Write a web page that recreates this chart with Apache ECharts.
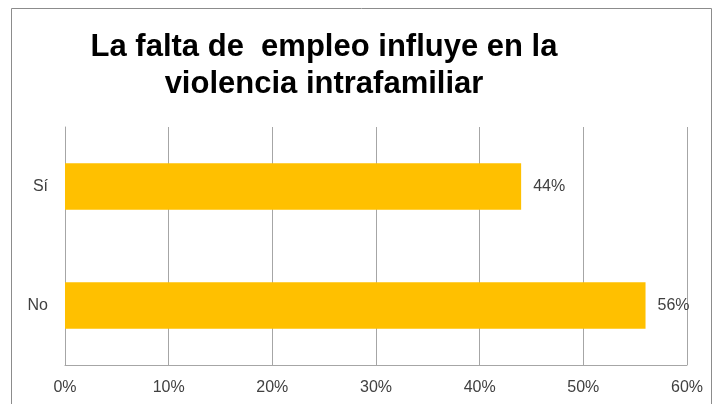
<!DOCTYPE html>
<html><head><meta charset="utf-8">
<script src="https://cdn.jsdelivr.net/npm/echarts@6/dist/echarts.min.js"></script>
<style>html,body{margin:0;padding:0;background:#fff}#c{width:714px;height:404px}</style>
</head><body><div id="c"></div>
<script>
const categories = ['No', 'Sí'];
const values = [0.56, 0.44];
const tickMax = 0.6;
const titleText = 'La falta de  empleo influye en la\nviolencia intrafamiliar';

const chart = echarts.init(document.getElementById('c'), null, {renderer: 'canvas'});
chart.setOption({
  animation: false,
  backgroundColor: '#fff',
  title: {
    text: titleText,
    left: 319, top: 24, textAlign: 'center',
    textStyle: {fontFamily: 'Liberation Sans', fontWeight: 'bold', fontSize: 31, color: '#000', lineHeight: 37}
  },
  graphic: [{type: 'rect', shape: {x: 11.5, y: 8.5, width: 700, height: 420}, style: {fill: 'none', stroke: '#8c8c8c', lineWidth: 1}, z: -1}],
  grid: {left: 65, right: 27, top: 127, bottom: 39},
  xAxis: {
    type: 'value', min: 0, max: tickMax, interval: 0.1,
    axisLine: {show: true, lineStyle: {color: '#a6a6a6'}},
    axisTick: {show: false},
    splitLine: {show: true, lineStyle: {color: '#a6a6a6'}},
    axisLabel: {formatter: v => Math.round(v * 100) + '%', color: '#404040', fontFamily: 'Liberation Sans', fontSize: 16, margin: 15}
  },
  yAxis: {
    type: 'category', data: categories,
    axisLine: {show: true, lineStyle: {color: '#a6a6a6'}},
    axisTick: {show: false},
    axisLabel: {color: '#404040', fontFamily: 'Liberation Sans', fontSize: 16, margin: 17}
  },
  series: [{
    type: 'bar', data: values, barWidth: '39%',
    itemStyle: {color: '#ffc000'},
    label: {show: true, position: 'right', distance: 12, formatter: p => Math.round(p.value * 100) + '%', color: '#404040', fontFamily: 'Liberation Sans', fontSize: 16}
  }]
});
</script></body></html>
